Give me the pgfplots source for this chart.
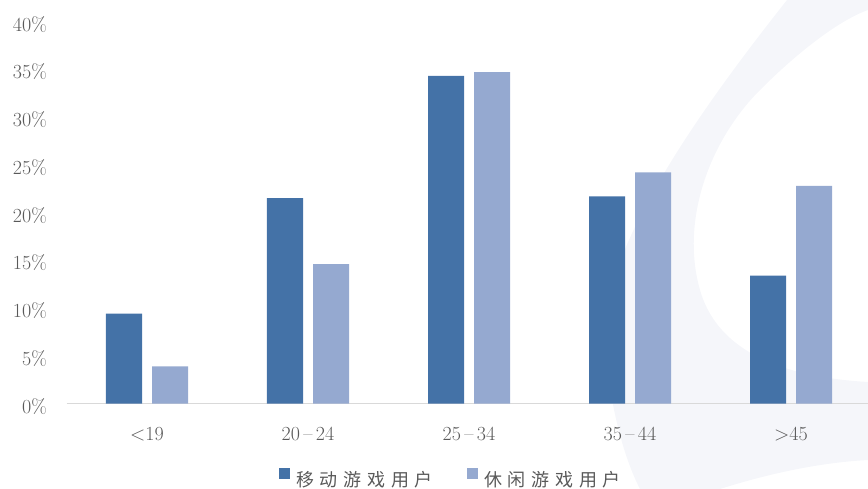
\documentclass[border=0pt]{standalone}
\usepackage{fontspec}
\usepackage{pgfplots}
\pgfplotsset{compat=1.18}
\newfontfamily\cjk{Noto Sans CJK SC}
\definecolor{mobile}{HTML}{4472A7}
\definecolor{casual}{HTML}{95A9D0}
\definecolor{txt}{HTML}{595959}
\definecolor{baseline}{HTML}{D9D9D9}
\definecolor{wm}{HTML}{F5F6FA}
\newcommand\ls{\hspace{5.8pt}}
\newcommand\rng[2]{#1\,--\,#2}
\pgfplotsset{sq legend/.style={legend image code/.code={\fill[##1] (0pt,1.3pt) rectangle (11pt,12.3pt);}}}

\begin{document}
\begin{tikzpicture}
\useasboundingbox (0,0) rectangle (868pt,-489pt);
% faint logo in the background
\begin{scope}[x=1pt,y=-1pt]
\fill[wm] (787,0) .. controls (700,110) and (600,250) .. (605,340)
  .. controls (610,420) and (630,470) .. (640,489) -- (720,489)
  .. controls (780,470) and (830,462) .. (868,460) -- (868,382)
  .. controls (800,378) and (720,360) .. (700,290)
  .. controls (680,220) and (710,140) .. (760,90)
  .. controls (800,50) and (840,20) .. (868,10) -- (868,0) -- cycle;
\end{scope}
\begin{axis}[
  at={(66.5pt,-403.5pt)}, anchor=south west,
  scale only axis, width=805pt, height=382pt,
  xmin=-0.5, xmax=4.5, ymin=0, ymax=40,
  ybar=10pt, bar width=36pt,
  xtick={0,1,2,3,4},
  xticklabels={{<19},{\rng{20}{24}},{\rng{25}{34}},{\rng{35}{44}},{>45}},
  ytick={0,5,...,40},
  yticklabel={\pgfmathprintnumber{\tick}\%},
  /pgf/number format/assume math mode=true,
  ticklabel style={font=\fontsize{20}{24}\selectfont, text=txt, inner sep=0pt},
  xticklabel style={anchor=base, yshift=-36.5pt},
  yticklabel style={anchor=base east, xshift=-19.5pt, yshift=-9.5pt},
  major tick length=0pt,
  tick style={draw=none},
  axis x line*=bottom, axis y line*=left,
  y axis line style={draw=none},
  x axis line style={draw=baseline, line width=1.3pt, -},
  legend columns=2,
  legend style={at={(0,0)}, anchor=west, xshift=212.5pt, yshift=-74.5pt,
    draw=none, fill=none, inner sep=0pt, outer sep=0pt,
    nodes={inner sep=0pt, text=txt, font=\cjk\fontsize{18}{20}\selectfont},
    /tikz/every odd column/.append style={column sep=6pt},
    /tikz/every even column/.append style={column sep=34pt}},
]
\addplot[fill=mobile, draw=none, sq legend] coordinates {(0,9.4) (1,21.5) (2,34.3) (3,21.7) (4,13.4)};
\addplot[fill=casual, draw=none, sq legend] coordinates {(0,3.9) (1,14.6) (2,34.7) (3,24.2) (4,22.8)};
\legend{移\ls 动\ls 游\ls 戏\ls 用\ls 户, 休\ls 闲\ls 游\ls 戏\ls 用\ls 户}
\end{axis}
\end{tikzpicture}
\end{document}
